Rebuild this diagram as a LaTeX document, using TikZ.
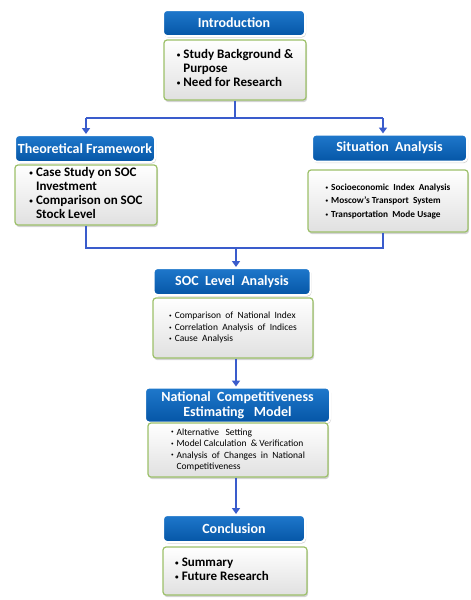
\documentclass[tikz,border=0pt]{standalone}
\usepackage{fontspec}
\usepackage{graphicx}
\setmainfont{Carlito}
\usetikzlibrary{shadows,arrows.meta}
\definecolor{hdrtop}{HTML}{1F78CC}
\definecolor{hdrbot}{HTML}{0556A6}
\definecolor{conncol}{HTML}{3A5CCC}
\definecolor{bodyedge}{HTML}{9CC069}
\tikzset{
  hdr/.style={rectangle, rounded corners=4pt, top color=hdrtop, bottom color=hdrbot,
    draw=white, line width=2pt, text=white, align=center, inner sep=0pt,
    font=\bfseries\fontsize{14}{15}\selectfont,
    drop shadow={opacity=0.35, shadow xshift=1pt, shadow yshift=-1.5pt}},
  bodybox/.style={rectangle, rounded corners=3pt, top color=white, bottom color=black!12,
    draw=bodyedge, line width=1.2pt, text=black, inner sep=0pt,
    drop shadow={opacity=0.35, shadow xshift=1pt, shadow yshift=-2pt}},
  bigtxt/.style={font=\bfseries\fontsize{13}{14}\selectfont},
  smalltxt/.style={font=\fontsize{9.5}{11.5}\selectfont},
  connline/.style={draw=conncol, line width=2.2pt},
  arr/.style={connline, -{Triangle[width=8pt,length=6pt]}},
}
\newcommand{\bl}{\raisebox{0.12em}{\scalebox{0.55}{\textbullet}}}
\begin{document}
\begin{tikzpicture}[x=1pt,y=-1pt]
\useasboundingbox (0,0) rectangle (471,600);

% Introduction
\node[hdr, minimum width=142pt, minimum height=26pt] (introH) at (234,23) {Introduction};
\node[bodybox, bigtxt, minimum width=142pt, minimum height=60pt] (introB) at (235,70)
  {\begin{tabular}{@{}l@{\hspace{3pt}}l@{}}\bl & Study Background \&\\ & Purpose\\ \bl & Need for Research\end{tabular}};

% Theoretical Framework
\node[hdr, minimum width=140pt, minimum height=27pt] (theoH) at (85,148.5) {Theoretical\ Framework};
\node[bodybox, bigtxt, minimum width=142pt, minimum height=60pt] (theoB) at (86,195)
  {\begin{tabular}{@{}l@{\hspace{3pt}}l@{}}\bl & Case Study on SOC\\ & Investment\\ \bl & Comparison on SOC\\ & Stock Level\end{tabular}};

% Situation Analysis
\node[hdr, minimum width=155pt, minimum height=27pt] (sitH) at (389.5,148) {Situation\ \ Analysis};
\node[bodybox, minimum width=160pt, minimum height=62pt, font=\bfseries\fontsize{9.3}{13.5}\selectfont] (sitB) at (388,201)
  {\begin{tabular}{@{}l@{\hspace{3pt}}l@{}}\bl & Socioeconomic\ \ Index\ \ Analysis\\ \bl & Moscow's Transport\ \ System\\ \bl & Transportation\ \ Mode Usage\end{tabular}};

% SOC Level Analysis
\node[hdr, minimum width=157pt, minimum height=27pt] (socH) at (232,281.5) {SOC\ \ Level\ \ Analysis};
\node[bodybox, smalltxt, minimum width=160pt, minimum height=60pt] (socB) at (233,328)
  {\begin{tabular}{@{}l@{\hspace{3pt}}l@{}}\bl & Comparison\ \ of\ \ National\ \ Index\\ \bl & Correlation\ \ Analysis\ \ of\ \ Indices\\ \bl & Cause\ \ Analysis\end{tabular}};

% National Competitiveness Estimating Model
\node[hdr, minimum width=185pt, minimum height=35pt] (ncH) at (237.5,405) {National\ \ Competitiveness\\Estimating\ \ \ Model};
\node[bodybox, smalltxt, minimum width=180pt, minimum height=54pt] (ncB) at (238,450)
  {\begin{tabular}{@{}l@{\hspace{3pt}}l@{}}\bl & Alternative\ \ \ Setting\\ \bl & Model Calculation\ \ \& Verification\\ \bl & Analysis\ \ of\ \ Changes\ \ in\ \ National\\ & Competitiveness\end{tabular}};

% Conclusion
\node[hdr, minimum width=142pt, minimum height=27pt] (conH) at (234,528.5) {Conclusion};
\node[bodybox, bigtxt, minimum width=144pt, minimum height=48pt] (conB) at (235,571)
  {\begin{tabular}{@{}l@{\hspace{3pt}}l@{}}\bl & Summary\\ \bl & Future Research\end{tabular}\hspace*{26pt}};

% connectors
\coordinate (j1) at (235,118);
\coordinate (jL) at (86,118);
\coordinate (jR) at (383,118);
\coordinate (kL) at (86,248);
\coordinate (kR) at (383,248);
\coordinate (k1) at (236,248);
\draw[connline] (introB.south) -- (j1);
\draw[connline] (jL) -- (jR);
\draw[arr] (jL) -- (jL |- theoH.north);
\draw[arr] (jR) -- (jR |- sitH.north);
\draw[connline] (theoB.south -| kL) -- (kL) -- (kR) -- (sitB.south -| kR);
\draw[arr] (k1) -- (k1 |- socH.north);
\draw[arr] (socB.south -| k1) -- (k1 |- ncH.north);
\draw[arr] (ncB.south -| k1) -- (k1 |- conH.north);
\end{tikzpicture}
\end{document}
